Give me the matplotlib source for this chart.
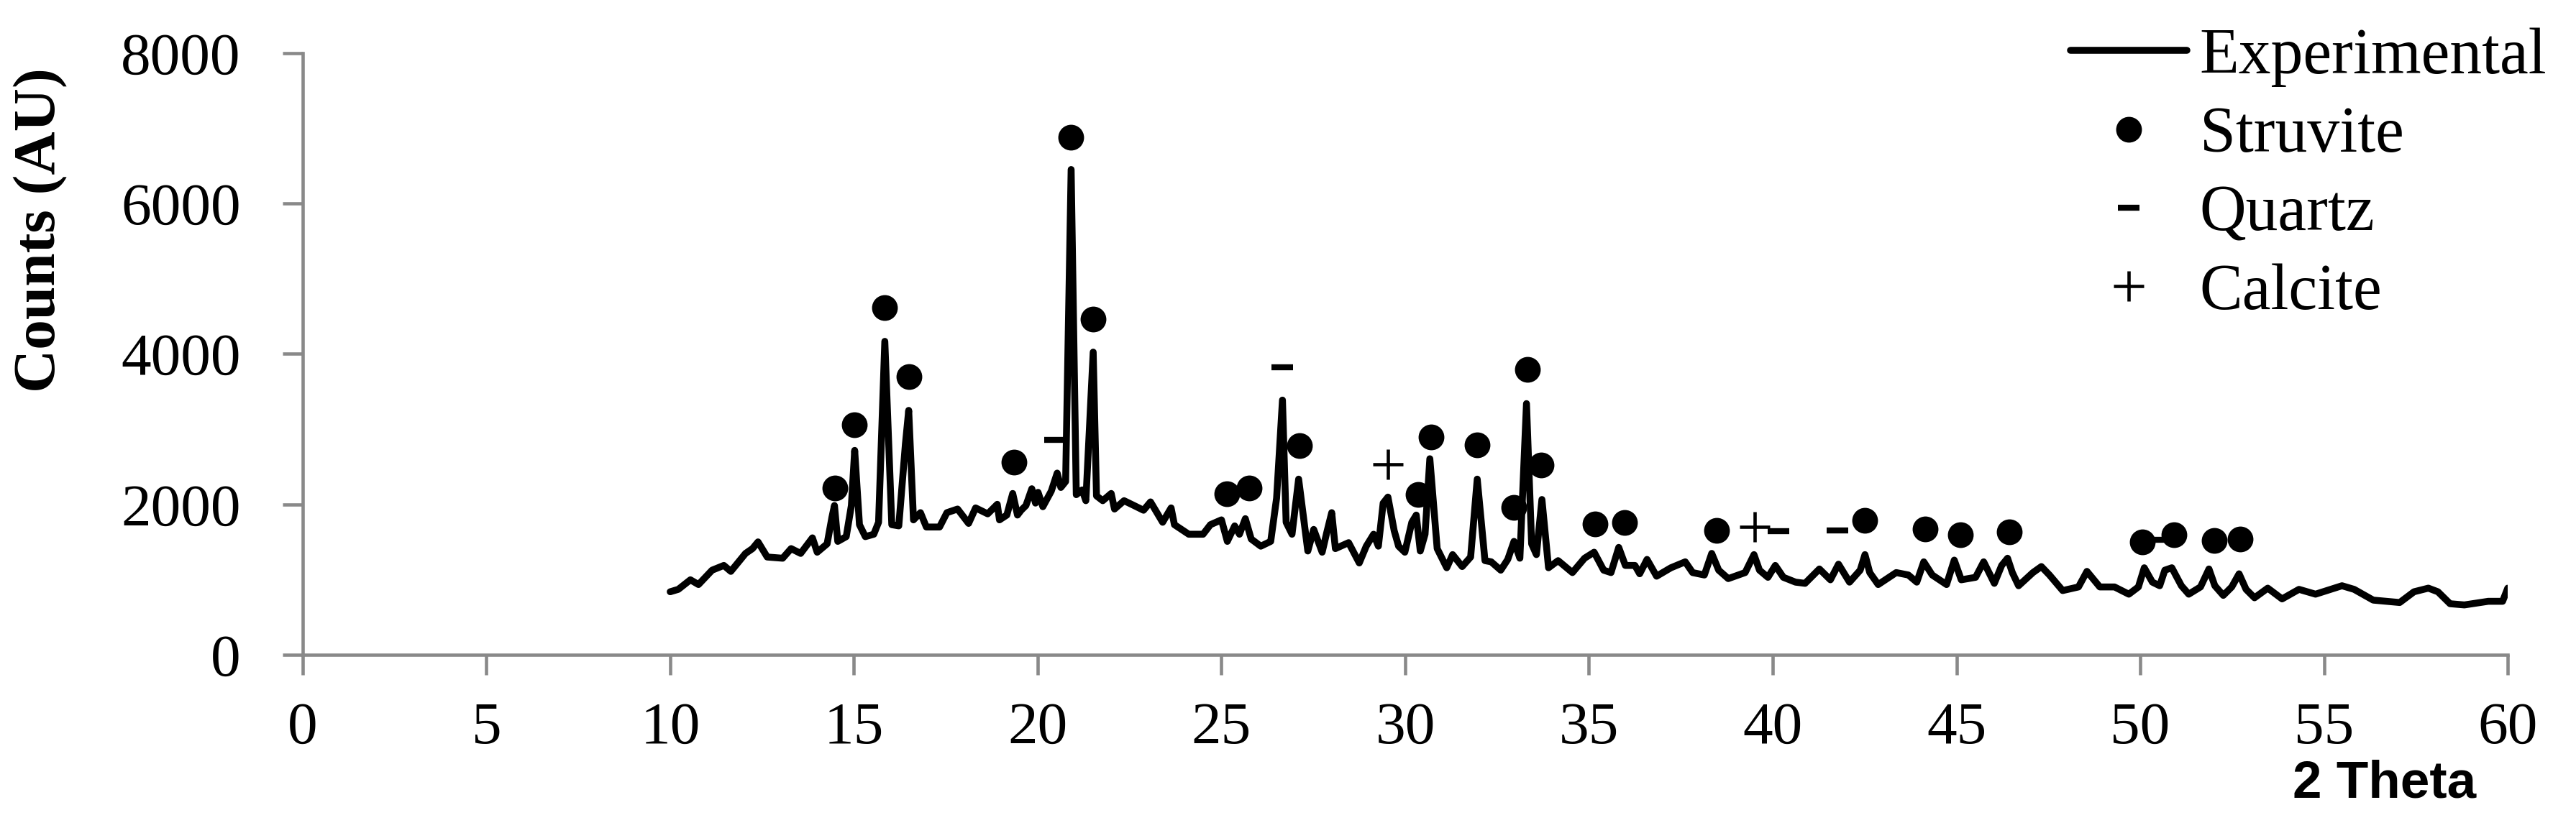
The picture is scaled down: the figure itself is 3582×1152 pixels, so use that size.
import matplotlib
matplotlib.use("Agg")
import matplotlib.pyplot as plt

# XRD pattern (2 theta in degrees, counts)
two_theta = [
    10.0, 10.22, 10.55, 10.77, 11.14, 11.46, 11.65, 12.05, 12.24, 12.39,
    12.64, 13.06, 13.29, 13.55, 13.87, 14.0, 14.27, 14.4, 14.47, 14.56,
    14.79, 14.93, 15.02, 15.15, 15.31, 15.54, 15.67, 15.84, 16.03, 16.22,
    16.4, 16.49, 16.62, 16.81, 16.97, 17.33, 17.53, 17.82, 18.12, 18.31,
    18.64, 18.9, 18.96, 19.16, 19.32, 19.45, 19.55, 19.68, 19.84, 19.94,
    20.01, 20.14, 20.37, 20.53, 20.63, 20.76, 20.91, 21.05, 21.21, 21.31,
    21.51, 21.6, 21.77, 22.0, 22.09, 22.35, 22.62, 22.88, 23.07, 23.4,
    23.63, 23.72, 24.11, 24.5, 24.7, 25.0, 25.16, 25.36, 25.49, 25.65,
    25.81, 26.07, 26.34, 26.5, 26.66, 26.76, 26.92, 27.1, 27.35, 27.51,
    27.74, 27.87, 28.0, 28.1, 28.46, 28.75, 28.94, 29.14, 29.27, 29.4,
    29.53, 29.7, 29.82, 29.99, 30.18, 30.3, 30.41, 30.54, 30.67, 30.87,
    31.13, 31.29, 31.55, 31.78, 31.96, 32.17, 32.34, 32.6, 32.79, 32.96,
    33.12, 33.3, 33.44, 33.57, 33.72, 33.9, 34.16, 34.55, 34.88, 35.14,
    35.4, 35.6, 35.81, 35.99, 36.25, 36.38, 36.58, 36.84, 37.23, 37.62,
    37.82, 38.14, 38.34, 38.53, 38.79, 39.25, 39.49, 39.64, 39.87, 40.07,
    40.29, 40.62, 40.88, 41.27, 41.57, 41.79, 42.09, 42.38, 42.51, 42.64,
    42.87, 43.36, 43.69, 43.92, 44.11, 44.34, 44.73, 44.94, 45.13, 45.52,
    45.74, 46.03, 46.23, 46.39, 46.52, 46.69, 47.08, 47.31, 47.53, 47.89,
    48.32, 48.55, 48.9, 49.3, 49.69, 49.95, 50.11, 50.33, 50.53, 50.67,
    50.86, 51.12, 51.32, 51.64, 51.87, 52.03, 52.26, 52.49, 52.69, 52.88,
    53.11, 53.47, 53.86, 54.32, 54.77, 55.49, 55.82, 56.34, 57.06, 57.45,
    57.84, 58.1, 58.43, 58.82, 59.47, 59.86, 60.0,
]
counts = [
    838, 870, 997, 934, 1125, 1188, 1109, 1348, 1412, 1501,
    1300, 1284, 1412, 1348, 1555, 1364, 1475, 1826, 1985, 1508,
    1571, 1985, 2718, 1730, 1571, 1603, 1762, 4168, 1730, 1714,
    2800, 3250, 1794, 1890, 1699, 1699, 1890, 1938, 1747, 1953,
    1874, 2001, 1794, 1858, 2145, 1858, 1922, 1985, 2208, 2017,
    2160, 1969, 2177, 2416, 2225, 2304, 6453, 2129, 2192, 2049,
    4025, 2113, 2049, 2145, 1938, 2049, 1985, 1922, 2033, 1762,
    1953, 1730, 1603, 1603, 1730, 1794, 1508, 1714, 1603, 1810,
    1539, 1444, 1508, 2081, 3387, 1762, 1603, 2336, 1380, 1667,
    1364, 1635, 1890, 1412, 1491, 1221, 1444, 1603, 1444, 2017,
    2097, 1650, 1444, 1364, 1762, 1858, 1380, 1603, 2607, 1412,
    1157, 1332, 1173, 1300, 2336, 1252, 1236, 1125, 1268, 1508,
    1284, 3340, 1475, 1332, 2065, 1157, 1252, 1093, 1284, 1364,
    1125, 1093, 1428, 1188, 1188, 1077, 1268, 1045, 1157, 1236,
    1093, 1061, 1348, 1125, 1013, 1093, 1332, 1125, 1030, 1188,
    1030, 966, 950, 1141, 997, 1205, 966, 1125, 1332, 1093,
    934, 1093, 1061, 966, 1236, 1061, 934, 1259, 997, 1030,
    1236, 950, 1188, 1284, 1093, 918, 1093, 1173, 1061, 854,
    902, 1109, 902, 902, 806, 902, 1157, 966, 918, 1125,
    1157, 918, 806, 902, 1141, 918, 790, 902, 1077, 870,
    758, 886, 743, 870, 806, 918, 870, 727, 695, 838,
    886, 838, 679, 663, 711, 711, 886,
]

# phase labels placed above the peaks
struvite_x = [14.48, 15.02, 15.84, 16.49, 19.36, 20.91, 21.51, 25.15, 25.75,
              27.12, 30.35, 30.7, 31.96, 32.96, 33.33, 33.69, 35.17, 35.96,
              38.48, 42.51, 44.15, 45.11, 46.44, 50.05, 50.91, 52.02, 52.71]
struvite_y = [2215, 3062, 4617, 3702, 2559, 6886, 4462, 2138, 2215,
              2782, 2129, 2893, 2788, 1963, 3795, 2521, 1737, 1756,
              1651, 1785, 1673, 1593, 1635, 1501, 1597, 1523, 1539]
quartz_x = [20.47, 26.66, 40.16, 41.77, 50.4]
quartz_y = [2862, 3824, 1644, 1651, 1533]
calcite_x = [29.53, 39.51]
calcite_y = [2533, 1699]

SERIF = ["Liberation Serif", "DejaVu Serif"]
GREY = "#898989"

fig = plt.figure(figsize=(11.94, 3.84), dpi=300)
ax = fig.add_axes([0.1175, 0.2092, 0.856, 0.7266])

ax.plot(two_theta, counts, color="black", lw=2.3, solid_joinstyle="round",
        solid_capstyle="round", label="Experimental", zorder=3)
ax.plot(struvite_x, struvite_y, "o", color="black", ms=7.6, ls="none",
        label="Struvite", zorder=4)
ax.plot(quartz_x, quartz_y, "_", color="black", ms=7, mew=2.0, ls="none",
        label="Quartz", zorder=4)
ax.plot(calcite_x, calcite_y, "+", color="black", ms=10, mew=1.1, ls="none",
        label="Calcite", zorder=4)

ax.set_xlim(0, 60)
ax.set_ylim(0, 8000)
ax.set_xticks(range(0, 61, 5))
ax.set_yticks(range(0, 8001, 2000))

for side in ["top", "right"]:
    ax.spines[side].set_visible(False)
for side in ["left", "bottom"]:
    ax.spines[side].set_color(GREY)
    ax.spines[side].set_linewidth(1.1)

ax.tick_params(axis="both", direction="out", length=6.7, width=1.1,
               color=GREY, labelsize=20, labelfontfamily=SERIF)
ax.tick_params(axis="y", pad=14)
ax.tick_params(axis="x", pad=9)

ax.set_ylabel("Counts (AU)", fontsize=20, fontweight="bold", family=SERIF,
              va="center")
ax.yaxis.set_label_coords(-0.1187, 0.706)

fig.text(0.9255, 0.053, "2 Theta", fontsize=17.5, fontweight="bold",
         family=["Liberation Sans", "DejaVu Sans"], ha="center", va="center")

leg = ax.legend(loc="upper right", bbox_to_anchor=(0.9886, 0.967),
                bbox_transform=fig.transFigure, frameon=False,
                prop={"family": SERIF, "size": 21.5}, borderpad=0,
                handlelength=1.8, handletextpad=0.2, labelspacing=0.30,
                borderaxespad=0)
for h in leg.legend_handles[:1]:
    h.set_linewidth(2.3)

fig.savefig("out.png", dpi=300)
